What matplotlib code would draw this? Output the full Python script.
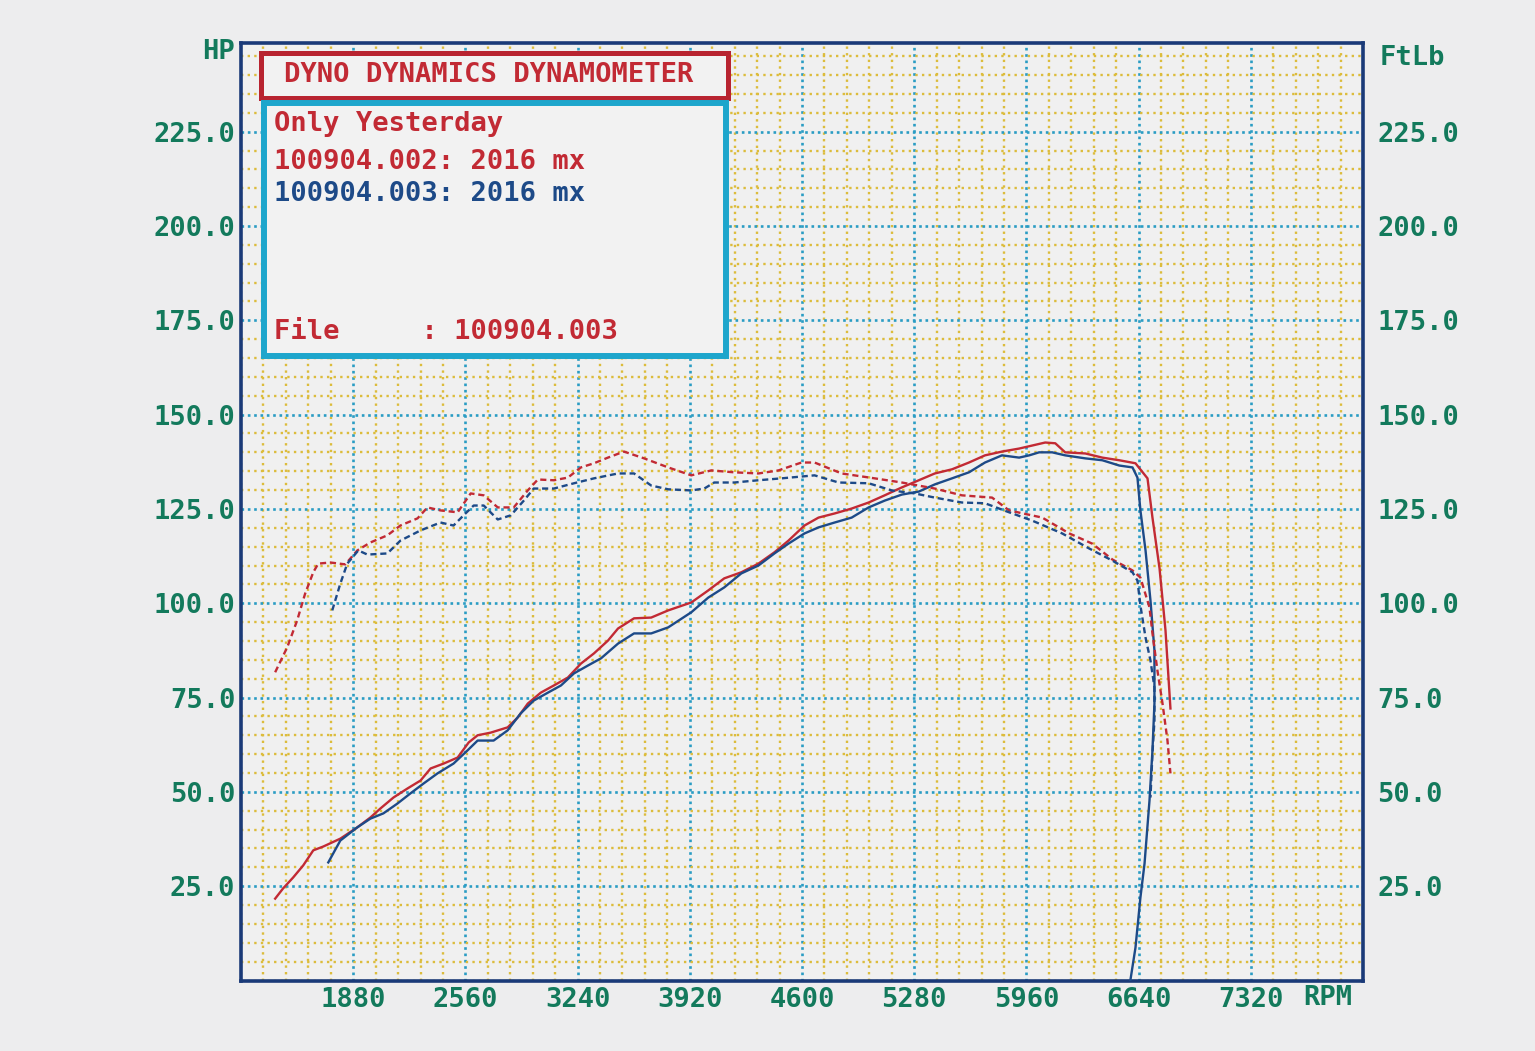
import numpy as np
import matplotlib
matplotlib.use("Agg")
import matplotlib.pyplot as plt
from matplotlib.patches import Rectangle
from matplotlib.ticker import FixedLocator

# run 100904.002 (red) - power and torque
rpm_hp_002 = [1407, 1455, 1516, 1577, 1638, 1698, 1802, 1905, 1984, 2045, 2124, 2209, 2288, 2349,
              2428, 2513, 2580, 2634, 2713, 2816, 2877, 2938, 3017, 3096, 3181, 3260, 3339, 3424,
              3485, 3582, 3686, 3789, 3929, 4032, 4129, 4232, 4336, 4433, 4518, 4615, 4700, 4798,
              4901, 5004, 5101, 5205, 5308, 5405, 5509, 5612, 5709, 5812, 5916, 5995, 6074, 6135,
              6195, 6317, 6420, 6523, 6621, 6694, 6724, 6767, 6803, 6833]
hp_002 = [21.7, 24.4, 27.3, 30.5, 34.5, 35.5, 37.6, 40.6, 43.2, 45.6, 48.5, 50.9, 53.0, 56.2,
          57.5, 59.1, 63.1, 65.0, 65.7, 67.1, 69.7, 73.4, 76.3, 78.2, 80.3, 84.0, 86.7, 90.1,
          93.3, 96.0, 96.2, 98.1, 100.2, 103.4, 106.6, 108.2, 110.5, 113.5, 116.6, 120.6, 122.7, 123.8,
          125.1, 126.7, 128.6, 130.7, 132.6, 134.4, 135.5, 137.3, 139.2, 140.2, 141.0, 141.8, 142.6, 142.4,
          140.0, 139.7, 138.6, 137.9, 137.1, 133.1, 122.7, 109.2, 92.8, 72.1]

rpm_tq_002 = [1407, 1480, 1540, 1589, 1638, 1668, 1741, 1832, 1905, 1984, 2087, 2166, 2270, 2330,
              2409, 2513, 2592, 2671, 2756, 2853, 2938, 2999, 3096, 3181, 3260, 3339, 3424, 3521,
              3643, 3789, 3929, 4050, 4190, 4336, 4457, 4597, 4676, 4840, 5041, 5205, 5405, 5569,
              5752, 5855, 6056, 6220, 6359, 6481, 6603, 6651, 6706, 6724, 6754, 6785, 6815, 6833]
tq_002 = [81.7, 88.3, 95.4, 102.6, 108.2, 110.5, 110.8, 110.3, 114.0, 116.1, 118.0, 120.6, 122.5, 125.4,
          124.6, 124.1, 129.1, 128.6, 125.4, 125.4, 129.9, 132.8, 132.6, 133.3, 136.0, 137.1, 138.6, 140.2,
          138.4, 136.0, 133.9, 135.2, 134.7, 134.4, 135.2, 137.3, 137.3, 134.4, 133.1, 132.0, 130.4, 128.6,
          128.0, 124.6, 122.7, 118.5, 115.8, 111.6, 108.7, 106.8, 98.9, 92.0, 82.2, 73.4, 63.6, 54.9]

# run 100904.003 (blue) - power and torque
rpm_hp_003 = [1729, 1802, 1905, 1984, 2063, 2148, 2227, 2306, 2391, 2488, 2573, 2634, 2731, 2816,
              2895, 2974, 3060, 3139, 3218, 3303, 3382, 3485, 3582, 3686, 3789, 3929, 4032, 4129,
              4232, 4336, 4433, 4518, 4615, 4700, 4798, 4901, 5004, 5101, 5205, 5308, 5405, 5509,
              5612, 5709, 5812, 5916, 5977, 6037, 6116, 6195, 6317, 6420, 6523, 6603, 6633, 6651,
              6682, 6712, 6736, 6736, 6724, 6706, 6676, 6651, 6621, 6590]
hp_003 = [31.3, 37.1, 40.6, 42.9, 44.3, 46.9, 49.6, 52.2, 54.9, 57.5, 61.0, 63.6, 63.6, 66.3,
          70.8, 74.2, 76.3, 78.2, 81.4, 83.5, 85.4, 89.3, 92.0, 92.0, 93.6, 97.6, 101.5, 104.2,
          107.9, 110.0, 113.2, 115.8, 118.5, 120.1, 121.4, 122.7, 125.4, 127.2, 128.8, 129.6, 131.5, 133.1,
          134.7, 137.3, 139.2, 138.6, 139.2, 140.0, 140.0, 139.2, 138.4, 137.9, 136.5, 136.0, 133.3, 124.6,
          114.0, 100.7, 87.5, 73.4, 61.0, 47.7, 31.0, 22.0, 8.7, 0.0]

rpm_tq_003 = [1753, 1802, 1844, 1911, 1966, 2087, 2166, 2288, 2409, 2488, 2549, 2610, 2671, 2756,
              2835, 2914, 2974, 3096, 3218, 3339, 3485, 3582, 3686, 3789, 3929, 4008, 4068, 4190,
              4336, 4475, 4676, 4822, 5004, 5144, 5284, 5405, 5569, 5709, 5843, 5995, 6177, 6341,
              6481, 6603, 6633, 6651, 6682, 6712, 6736, 6736, 6724, 6712]
tq_003 = [98.1, 105.2, 110.5, 114.0, 112.9, 113.2, 116.6, 119.3, 121.4, 120.6, 123.3, 125.9, 125.9, 122.2,
          123.3, 127.2, 130.4, 130.4, 131.8, 133.1, 134.4, 134.4, 131.2, 130.2, 129.9, 130.4, 132.0, 132.0,
          132.6, 133.1, 133.9, 132.0, 131.8, 129.9, 129.1, 128.0, 126.7, 126.5, 124.3, 121.9, 118.5, 114.5,
          111.3, 108.2, 106.0, 99.4, 90.9, 84.8, 77.7, 68.9, 60.2, 48.5]

rpm_ticks = [1880, 2560, 3240, 3920, 4600, 5280, 5960, 6640, 7320]
val_ticks = [25, 50, 75, 100, 125, 150, 175, 200, 225]
val_labels = ["25.0", "50.0", "75.0", "100.0", "125.0", "150.0", "175.0", "200.0", "225.0"]

title = "DYNO DYNAMICS DYNAMOMETER"
legend_lines = ["Only Yesterday", "100904.002: 2016 mx", "100904.003: 2016 mx"]
file_line = "File     : 100904.003"

RED = "#c22a34"
BLUE = "#1d4a88"
GREEN = "#137a5c"
FRAME = "#1a3a78"
GRID_BLUE = "#2a9cc4"
GRID_YEL = "#dcbc3c"
CYAN = "#1ea6cc"
PAPER = "#ededee"
FONT = "DejaVu Sans Mono"
FS = 19.5

W, H = 1535, 1051
fig = plt.figure(figsize=(W / 100, H / 100), dpi=100, facecolor=PAPER)
ax = fig.add_axes([241 / W, 1 - 980.5 / H, 1122 / W, 937.5 / H])
ax.set_facecolor("#f0f0f0")
ax.set_xlim(1200, 8000)
ax.set_ylim(0, 248.5)

ax.xaxis.set_minor_locator(FixedLocator(np.arange(1200, 8001, 136)))
ax.yaxis.set_minor_locator(FixedLocator(np.arange(0, 250, 5)))
ax.set_xticks(rpm_ticks, labels=[str(r) for r in rpm_ticks])
ax.set_yticks(val_ticks, labels=val_labels)

ax.grid(which="minor", color=GRID_YEL, linestyle=(0, (1, 1.8)), linewidth=1.7, zorder=0)
ax.grid(which="major", color=GRID_BLUE, linestyle=(0, (1, 1.4)), linewidth=1.9, zorder=0)
ax.set_axisbelow(True)

ax.tick_params(which="both", length=0)
ax.tick_params(axis="y", labelright=True, pad=4)
ax.tick_params(axis="x", pad=5)
for t in ax.xaxis.get_major_ticks() + ax.yaxis.get_major_ticks():
    for lab in (t.label1, t.label2):
        lab.set_fontfamily(FONT)
        lab.set_fontweight("bold")
        lab.set_fontsize(FS)
        lab.set_color(GREEN)
for t in ax.yaxis.get_major_ticks():
    t.label2.set_x(1.008)

for s in ax.spines.values():
    s.set_color(FRAME)
    s.set_linewidth(2.6)

ax.plot(rpm_hp_002, hp_002, color=RED, lw=1.7, zorder=3)
ax.plot(rpm_hp_003, hp_003, color=BLUE, lw=1.7, zorder=3)
ax.plot(rpm_tq_002, tq_002, color=RED, lw=1.7, ls=(0, (2.6, 1.6)), zorder=3)
ax.plot(rpm_tq_003, tq_003, color=BLUE, lw=1.7, ls=(0, (2.6, 1.6)), zorder=3)


def fx(x):
    return x / W


def fy(y):
    return 1 - y / H


fig.text(fx(218), fy(52), "HP", color=GREEN, fontsize=FS, fontweight="bold",
         family=FONT, ha="center", va="center")
fig.text(fx(1412), fy(58), "FtLb", color=GREEN, fontsize=FS, fontweight="bold",
         family=FONT, ha="center", va="center")
fig.text(fx(1328), fy(998), "RPM", color=GREEN, fontsize=FS, fontweight="bold",
         family=FONT, ha="center", va="center")

# title box and legend box
fig.add_artist(Rectangle((fx(261), fy(97.5)), (728 - 261) / W, (97.5 - 53.5) / H,
                         transform=fig.transFigure, facecolor="#f2f2f2",
                         edgecolor="#b82430", linewidth=3.6, zorder=5))
fig.add_artist(Rectangle((fx(264), fy(356)), (726 - 264) / W, (356 - 103) / H,
                         transform=fig.transFigure, facecolor="#f2f2f2",
                         edgecolor=CYAN, linewidth=4.3, zorder=5))
fig.text(fx(489), fy(75), title, color=RED, fontsize=FS, fontweight="bold",
         family=FONT, ha="center", va="center", zorder=6)
legend_y = [124, 162, 194]
legend_c = [RED, RED, BLUE]
for txt, yy, cc in zip(legend_lines, legend_y, legend_c):
    fig.text(fx(274), fy(yy), txt, color=cc, fontsize=FS, fontweight="bold",
             family=FONT, ha="left", va="center", zorder=6)
fig.text(fx(274), fy(332), file_line, color=RED, fontsize=FS, fontweight="bold",
         family=FONT, ha="left", va="center", zorder=6)

fig.savefig("out.png", dpi=100, facecolor=PAPER)
